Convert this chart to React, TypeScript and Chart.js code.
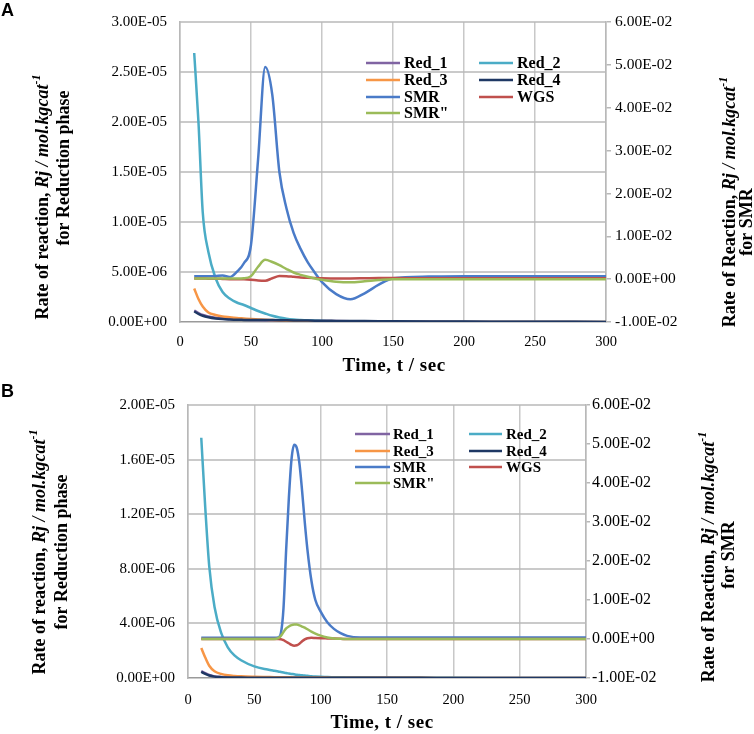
import React, { useEffect, useRef } from 'react';
import { Chart, registerables } from 'chart.js';

Chart.register(...registerables);

// ---------------- DATA ----------------
const seriesNames = ['Red_1', 'Red_2', 'Red_3', 'Red_4', 'SMR', 'WGS', 'SMR"'];
const seriesColors = ['#8064a2', '#4bacc6', '#f79646', '#1f3864', '#4a7bc8', '#c0504d', '#9bbb59'];
const xTicks = [0, 50, 100, 150, 200, 250, 300];

// Panel A
const timeA = [10, 13, 16, 20, 25, 30, 35, 40, 45, 50, 55, 60, 65, 70, 75, 80, 85, 90, 95, 100, 110, 120, 130, 140, 150, 175, 200, 250, 300];
// reduction rates (x1e-6)
const red1A = [1.15, 0.9, 0.7, 0.55, 0.42, 0.34, 0.29, 0.25, 0.22, 0.2, 0.19, 0.18, 0.17, 0.16, 0.15, 0.14, 0.13, 0.12, 0.11, 0.1, 0.09, 0.08, 0.07, 0.06, 0.05, 0.04, 0.03, 0.02, 0.01];
const red2A = [26.9, 20.0, 11.0, 7.0, 4.4, 3.0, 2.35, 1.95, 1.7, 1.4, 1.1, 0.85, 0.62, 0.45, 0.33, 0.25, 0.2, 0.16, 0.13, 0.1, 0.07, 0.05, 0.04, 0.03, 0.02, 0.01, 0.01, 0, 0];
const red3A = [3.35, 2.3, 1.55, 0.95, 0.7, 0.55, 0.47, 0.4, 0.35, 0.3, 0.26, 0.22, 0.19, 0.16, 0.13, 0.11, 0.09, 0.08, 0.07, 0.06, 0.04, 0.03, 0.02, 0.02, 0.01, 0.01, 0, 0, 0];
const red4A = [1.05, 0.82, 0.63, 0.48, 0.36, 0.29, 0.25, 0.22, 0.21, 0.2, 0.2, 0.2, 0.19, 0.18, 0.17, 0.16, 0.15, 0.14, 0.13, 0.12, 0.11, 0.1, 0.09, 0.08, 0.07, 0.05, 0.04, 0.02, 0.01];
// SMR-phase rates (x1e-3)
const smrA = [0.7, 0.7, 0.7, 0.7, 0.75, 0.85, 0.5, 1.7, 3.7, 8, 28, 49.5, 43, 25, 16.5, 10.8, 7, 3.9, 1.5, -0.7, -3.5, -4.7, -3.3, -1.3, 0.2, 0.6, 0.7, 0.7, 0.7];
const wgsA = [0.15, 0.15, 0.15, 0.1, 0.1, 0.05, 0.0, 0.0, -0.05, -0.15, -0.3, -0.35, 0.2, 0.75, 0.7, 0.55, 0.4, 0.3, 0.25, 0.2, 0.15, 0.15, 0.2, 0.25, 0.25, 0.2, 0.2, 0.2, 0.2];
const smr2A = [0.15, 0.15, 0.15, 0.15, 0.15, 0.15, 0.15, 0.15, 0.2, 0.7, 2.9, 4.5, 4.0, 3.25, 2.35, 1.55, 1.0, 0.55, 0.15, -0.15, -0.6, -0.75, -0.5, -0.2, 0, 0, 0, 0, 0];
const leftTicksA = [0, 5e-6, 1e-5, 1.5e-5, 2e-5, 2.5e-5, 3e-5];
const rightTicksA = [-0.01, 0, 0.01, 0.02, 0.03, 0.04, 0.05, 0.06];

// Panel B
const timeB = [10, 13, 16, 20, 25, 30, 35, 40, 50, 60, 65, 68, 70, 72, 74, 76, 78, 80, 82, 84, 86, 88, 90, 93, 96, 100, 105, 110, 115, 120, 130, 150, 175, 200, 250, 300];
const red1B = [0.5, 0.35, 0.22, 0.12, 0.07, 0.05, 0.04, 0.03, 0.02, 0.02, 0.02, 0.02, 0.02, 0.02, 0.02, 0.02, 0.02, 0.02, 0.02, 0.02, 0.01, 0.01, 0.01, 0.01, 0.01, 0.01, 0.01, 0.01, 0.01, 0.01, 0.01, 0.01, 0, 0, 0, 0];
const red2B = [17.6, 12.5, 8.2, 5.2, 3.3, 2.25, 1.65, 1.3, 0.85, 0.62, 0.53, 0.48, 0.44, 0.4, 0.36, 0.33, 0.3, 0.27, 0.24, 0.22, 0.2, 0.18, 0.16, 0.13, 0.11, 0.09, 0.07, 0.06, 0.05, 0.04, 0.03, 0.02, 0.01, 0.01, 0, 0];
const red3B = [2.2, 1.5, 0.9, 0.5, 0.3, 0.2, 0.15, 0.12, 0.09, 0.07, 0.06, 0.06, 0.05, 0.05, 0.05, 0.05, 0.05, 0.04, 0.04, 0.04, 0.04, 0.04, 0.04, 0.03, 0.03, 0.03, 0.03, 0.02, 0.02, 0.02, 0.02, 0.01, 0.01, 0, 0, 0];
const red4B = [0.45, 0.3, 0.18, 0.1, 0.06, 0.04, 0.03, 0.03, 0.02, 0.02, 0.02, 0.02, 0.02, 0.02, 0.02, 0.02, 0.02, 0.02, 0.02, 0.02, 0.02, 0.02, 0.02, 0.01, 0.01, 0.01, 0.01, 0.01, 0.01, 0.01, 0.01, 0.01, 0.01, 0, 0, 0];
const smrB = [0.3, 0.3, 0.3, 0.3, 0.3, 0.3, 0.3, 0.3, 0.3, 0.3, 0.3, 0.4, 1.5, 8, 23, 36, 46, 49.8, 49, 45, 38, 30, 23, 15, 10, 7, 4.3, 2.6, 1.5, 0.8, 0.4, 0.4, 0.4, 0.4, 0.4, 0.4];
const wgsB = [0, 0, 0, 0, 0, 0, 0, 0, 0, 0, 0, 0, -0.05, -0.3, -0.7, -1.1, -1.5, -1.7, -1.6, -1.2, -0.6, -0.1, 0.2, 0.3, 0.25, 0.2, 0.15, 0.1, 0.05, 0, 0, 0, 0, 0, 0, 0];
const smr2B = [0, 0, 0, 0, 0, 0, 0, 0, 0, 0, 0, 0.2, 0.8, 1.8, 2.7, 3.2, 3.55, 3.7, 3.7, 3.5, 3.2, 2.9, 2.5, 1.9, 1.4, 0.85, 0.4, 0.15, 0.05, 0, 0, 0, 0, 0, 0, 0];
const leftTicksB = [0, 4e-6, 8e-6, 1.2e-5, 1.6e-5, 2e-5];
const rightTicksB = [-0.01, 0, 0.01, 0.02, 0.03, 0.04, 0.05, 0.06];

// ---------------- HELPERS ----------------
const SERIF = "'Liberation Serif', 'Times New Roman', serif";
const SANS = "'Liberation Sans', Arial, sans-serif";
const GRID = '#c8c8c8';
const GRID_W = 1.5;
const HGRID = '#b8b8b8';
const HGRID_W = 1.5;

function sci(v: number): string {
  if (Math.abs(v) < 1e-15) return '0.00E+00';
  const [m, e] = v.toExponential(2).split('e');
  const n = parseInt(e, 10);
  return m + 'E' + (n < 0 ? '-' : '+') + String(Math.abs(n)).padStart(2, '0');
}

type Seg = { text: string; font: string; dy?: number };

function drawRich(ctx: CanvasRenderingContext2D, segs: Seg[], cx: number, cy: number, rot: number, spacing = 0) {
  ctx.save();
  ctx.translate(cx, cy);
  ctx.rotate(rot);
  (ctx as any).letterSpacing = spacing + 'px';
  let total = 0;
  segs.forEach((s) => {
    ctx.font = s.font;
    total += ctx.measureText(s.text).width;
  });
  let x = -total / 2;
  ctx.textBaseline = 'middle';
  ctx.textAlign = 'left';
  ctx.fillStyle = '#000';
  segs.forEach((s) => {
    ctx.font = s.font;
    ctx.fillText(s.text, x, s.dy || 0);
    x += ctx.measureText(s.text).width;
  });
  ctx.restore();
}

function pts(t: number[], v: number[], k: number) {
  return t.map((x, i) => ({ x, y: v[i] * k }));
}

type PanelCfg = {
  letter: string;
  letterY: number;
  h: number;
  area: { l: number; r: number; t: number; b: number };
  time: number[];
  red: number[][];
  smr: number[][];
  leftTicks: number[];
  rightTicks: number[];
  xTickPad: number;
  y1TickLen: number;
  y1TickPad: number;
  y1Font: number;
  legRows: number[];
  legCols: { x0: number; x1: number; tx: number }[];
  legFont: number;
  leftTitle: { x: number; y: number }[];
  rightTitle: { x: number; y: number }[];
  xTitle: { x: number; y: number };
};

const panelA: PanelCfg = {
  letter: 'A', letterY: 16, h: 375,
  area: { l: 180, r: 606, t: 21, b: 322 },
  time: timeA, red: [red1A, red2A, red3A, red4A], smr: [smrA, wgsA, smr2A],
  leftTicks: leftTicksA, rightTicks: rightTicksA,
  xTickPad: 11, y1TickLen: 5, y1TickPad: 4, y1Font: 15.5,
  legRows: [63, 80, 97, 113],
  legCols: [{ x0: 366, x1: 400, tx: 404 }, { x0: 479, x1: 513, tx: 517 }],
  legFont: 16,
  leftTitle: [{ x: 43, y: 197 }, { x: 64, y: 168 }],
  rightTitle: [{ x: 730, y: 202 }, { x: 747, y: 222 }],
  xTitle: { x: 394, y: 366 },
};

const panelB: PanelCfg = {
  letter: 'B', letterY: 22, h: 359,
  area: { l: 188, r: 586, t: 30, b: 303 },
  time: timeB, red: [red1B, red2B, red3B, red4B], smr: [smrB, wgsB, smr2B],
  leftTicks: leftTicksB, rightTicks: rightTicksB,
  xTickPad: 13, y1TickLen: 4, y1TickPad: 2, y1Font: 16,
  legRows: [59, 76, 92, 108],
  legCols: [{ x0: 355, x1: 390, tx: 393 }, { x0: 469, x1: 502, tx: 506 }],
  legFont: 15,
  leftTitle: [{ x: 40, y: 177 }, { x: 62, y: 177 }],
  rightTitle: [{ x: 709, y: 182 }, { x: 729, y: 180 }],
  xTitle: { x: 382, y: 348 },
};

const W = 754;
const Y_W = 130;
const Y1_W = 100;
const X_H = 40;

function Panel({ cfg, top }: { cfg: PanelCfg; top: number }) {
  const ref = useRef<HTMLCanvasElement | null>(null);

  useEffect(() => {
    const canvas = ref.current;
    if (!canvas) return;
    const series = [
      ...cfg.red.map((v) => ({ v, k: 1e-6, axis: 'y' })),
      ...cfg.smr.map((v) => ({ v, k: 1e-3, axis: 'y1' })),
    ];
    // series order: Red_1..Red_4, SMR, WGS, SMR"
    const datasets = series.map((s, i) => ({
      label: seriesNames[i],
      data: pts(cfg.time, s.v, s.k),
      yAxisID: s.axis,
      borderColor: seriesColors[i],
      backgroundColor: seriesColors[i],
      borderWidth: 2.5,
      pointRadius: 0,
      fill: false,
      tension: 0.4,
      cubicInterpolationMode: 'monotone' as const,
      order: series.length - i,
    }));

    // horizontal gridlines at the left-axis ticks
    const hgrid = {
      id: 'hgrid',
      beforeDatasetsDraw(chart: any) {
        const ctx: CanvasRenderingContext2D = chart.ctx;
        const ys = chart.scales['y'];
        const area = chart.chartArea;
        ctx.save();
        ctx.strokeStyle = HGRID;
        ctx.lineWidth = HGRID_W;
        for (let i = 1; i < cfg.leftTicks.length; i++) {
          const py = Math.round(ys.getPixelForValue(cfg.leftTicks[i]));
          ctx.beginPath();
          ctx.moveTo(area.left, py);
          ctx.lineTo(area.right, py);
          ctx.stroke();
        }
        ctx.restore();
      },
    };

    const decor = {
      id: 'decor',
      afterDraw(chart: any) {
        const ctx: CanvasRenderingContext2D = chart.ctx;
        ctx.save();
        // legend (2 columns, inside plot)
        ctx.lineWidth = 2.5;
        ctx.textBaseline = 'middle';
        ctx.textAlign = 'left';
        ctx.font = `bold ${cfg.legFont}px ${SERIF}`;
        seriesNames.forEach((name, i) => {
          const row = Math.floor(i / 2);
          const col = cfg.legCols[i % 2];
          const y = cfg.legRows[row];
          ctx.strokeStyle = seriesColors[i];
          ctx.beginPath();
          ctx.moveTo(col.x0, y);
          ctx.lineTo(col.x1, y);
          ctx.stroke();
          ctx.fillStyle = '#000';
          ctx.fillText(name, col.tx, y + 1);
        });
        // panel letter
        ctx.font = `bold 18px ${SANS}`;
        ctx.textBaseline = 'alphabetic';
        ctx.fillStyle = '#000';
        ctx.fillText(cfg.letter, 1, cfg.letterY);
        ctx.restore();

        const b = `bold 18px ${SERIF}`;
        const bi = `italic bold 18px ${SERIF}`;
        const sup = `italic bold 12px ${SERIF}`;
        const rot = -Math.PI / 2;
        drawRich(ctx, [
          { text: 'Rate of reaction, ', font: b },
          { text: 'Rj / mol.kgcat', font: bi },
          { text: '-1', font: sup, dy: -6 },
        ], cfg.leftTitle[0].x, cfg.leftTitle[0].y, rot);
        drawRich(ctx, [{ text: 'for Reduction phase', font: b }], cfg.leftTitle[1].x, cfg.leftTitle[1].y, rot);
        drawRich(ctx, [
          { text: 'Rate of Reaction, ', font: b },
          { text: 'Rj / mol.kgcat', font: bi },
          { text: '-1', font: sup, dy: -6 },
        ], cfg.rightTitle[0].x, cfg.rightTitle[0].y, rot);
        drawRich(ctx, [{ text: 'for SMR', font: b }], cfg.rightTitle[1].x, cfg.rightTitle[1].y, rot);
        drawRich(ctx, [{ text: 'Time, t / sec', font: `bold 19px ${SERIF}` }], cfg.xTitle.x, cfg.xTitle.y, 0, 0.5);
      },
    };

    const chart = new Chart(canvas, {
      type: 'line',
      data: { datasets } as any,
      plugins: [hgrid, decor],
      options: {
        responsive: false,
        animation: false,
        events: [],
        layout: {
          padding: {
            left: cfg.area.l - Y_W,
            right: W - cfg.area.r - Y1_W,
            top: cfg.area.t,
            bottom: cfg.h - cfg.area.b - X_H,
          },
        },
        plugins: {
          legend: { display: false },
          tooltip: { enabled: false },
          title: { display: false },
        },
        scales: {
          x: {
            type: 'linear',
            min: 0,
            max: 300,
            afterBuildTicks: (s: any) => { s.ticks = xTicks.map((value) => ({ value })); },
            afterFit: (s: any) => { s.height = X_H; },
            grid: { display: true, drawOnChartArea: true, color: GRID, lineWidth: GRID_W, drawTicks: false },
            border: { display: true, color: '#9a9a9a', width: 1.5 },
            ticks: {
              padding: cfg.xTickPad,
              color: '#000',
              font: { family: SERIF, size: 14.5 },
              maxRotation: 0,
              callback: (v: any) => String(v),
            },
          },
          y: {
            type: 'linear',
            position: 'left',
            min: cfg.leftTicks[0],
            max: cfg.leftTicks[cfg.leftTicks.length - 1],
            afterBuildTicks: (s: any) => { s.ticks = cfg.leftTicks.map((value) => ({ value })); },
            afterFit: (s: any) => { s.width = Y_W; },
            grid: { display: false, drawTicks: false },
            border: { display: true, color: '#b8b8b8', width: 1.5 },
            ticks: {
              padding: 13,
              color: '#000',
              font: { family: SERIF, size: 15 },
              callback: (v: any) => sci(Number(v)),
            },
          },
          y1: {
            type: 'linear',
            position: 'right',
            min: cfg.rightTicks[0],
            max: cfg.rightTicks[cfg.rightTicks.length - 1],
            afterBuildTicks: (s: any) => { s.ticks = cfg.rightTicks.map((value) => ({ value })); },
            afterFit: (s: any) => { s.width = Y1_W; },
            grid: { color: '#b8b8b8', lineWidth: 1.5, drawOnChartArea: false, drawTicks: true, tickLength: cfg.y1TickLen },
            border: { display: true, color: '#b8b8b8', width: 1.5 },
            ticks: {
              padding: cfg.y1TickPad,
              color: '#000',
              font: { family: SERIF, size: cfg.y1Font },
              callback: (v: any) => sci(Number(v)),
            },
          },
        },
      } as any,
    });
    return () => chart.destroy();
  }, [cfg]);

  return (
    <canvas
      ref={ref}
      width={W}
      height={cfg.h}
      style={{ position: 'absolute', left: 0, top, width: W, height: cfg.h, display: 'block' }}
    />
  );
}

export default function App() {
  return (
    <div style={{ position: 'absolute', left: 0, top: 0, width: W, height: 734, background: '#fff', overflow: 'hidden' }}>
      <Panel cfg={panelA} top={0} />
      <Panel cfg={panelB} top={375} />
    </div>
  );
}
